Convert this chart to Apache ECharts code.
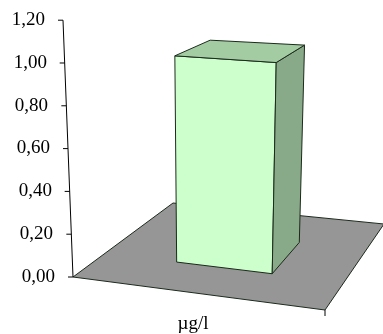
<!DOCTYPE html>
<html>
<head>
<meta charset="utf-8">
<script src="https://cdn.jsdelivr.net/npm/echarts@6/dist/echarts.min.js"></script>
<style>
html, body { margin: 0; padding: 0; background: #fff; }
#chart { width: 383px; height: 334px; }
</style>
</head>
<body>
<div id="chart"></div>
<script>
const categories = ['µg/l'];
const values = [1.00];
const yTicks = [0, 0.2, 0.4, 0.6, 0.8, 1.0, 1.2];
const yLabels = ['0,00', '0,20', '0,40', '0,60', '0,80', '1,00', '1,20'];

// fake 3D look: floor corners relative to the axis origin (front-left corner)
const FLOOR_FR = [252, 33];
const FLOOR_BL = [100, -74];
const FLOOR_BR = [311, -53];
const VANISH = [134, 3444];   // vertical edges lean away from this point
const BAR_T = [0.32, 0.70];   // bar depth on the floor (0 = front, 1 = back)
const BAR_HALF = 0.2;         // half bar width, share of the category band
const LABEL_LEAN = 10;        // px the top label moves left, follows the axis lean
const FONT = '"Liberation Serif", "Times New Roman", serif';

const makeProj = (ox, oy) => (s, t, h) => {
    const lx = t * FLOOR_BL[0], ly = t * FLOOR_BL[1];
    const rx = FLOOR_FR[0] + t * (FLOOR_BR[0] - FLOOR_FR[0]);
    const ry = FLOOR_FR[1] + t * (FLOOR_BR[1] - FLOOR_FR[1]);
    const bx = ox + lx + s * (rx - lx);
    const by = oy + ly + s * (ry - ly);
    const f = 1 + 0.058 * s - 0.17 * t; // things further back look smaller
    const dx = bx - (ox + VANISH[0]), dy = by - (oy + VANISH[1]);
    const n = Math.hypot(dx, dy);
    return [bx + dx / n * h * f, by + dy / n * h * f];
};

const poly = (points, fill) => ({
    type: 'polygon',
    shape: { points },
    style: { fill, stroke: '#1c2a1c', lineWidth: 1 }
});

const rich = {};
yTicks.forEach((t, i) => {
    rich['p' + i] = {
        fontFamily: FONT, fontSize: 19, color: '#000',
        padding: [0, Math.round(LABEL_LEAN * t / yTicks[yTicks.length - 1]), 0, 0]
    };
});

const chart = echarts.init(document.getElementById('chart'));
chart.setOption({
    animation: false,
    grid: { left: 73, right: 70, top: 20, bottom: 57, outerBoundsMode: 'none' },
    xAxis: {
        type: 'category',
        data: categories,
        axisLine: { show: false },
        axisTick: { show: false },
        axisLabel: { margin: 38, fontFamily: FONT, fontSize: 19, color: '#000' }
    },
    yAxis: {
        type: 'value',
        min: 0,
        max: yTicks[yTicks.length - 1],
        interval: 0.2,
        axisLine: { show: false },
        axisTick: { show: false },
        splitLine: { show: false },
        axisLabel: {
            margin: 18,
            formatter: (v, i) => `{p${i}|${yLabels[i]}}`,
            rich
        }
    },
    series: [
        {
            // floor, category tick and the leaning value axis
            type: 'custom',
            z: 1,
            silent: true,
            data: [[0, 0]],
            renderItem: (params, api) => {
                const cs = params.coordSys;
                const oy = api.coord([0, 0])[1];
                const P = makeProj(cs.x, oy);
                const children = [
                    poly([P(0, 0, 0), P(1, 0, 0), P(1, 1, 0), P(0, 1, 0)], '#969696')
                ];
                const fr = P(1, 0, 0);
                children.push({
                    type: 'line',
                    shape: { x1: fr[0], y1: fr[1], x2: fr[0], y2: fr[1] + 6 },
                    style: { stroke: '#000', lineWidth: 1 }
                });
                const topPx = oy - api.coord([0, yTicks[yTicks.length - 1]])[1];
                const a = P(0, 0, 0), b = P(0, 0, topPx);
                children.push({
                    type: 'line',
                    shape: { x1: a[0], y1: a[1], x2: b[0], y2: b[1] },
                    style: { stroke: '#000', lineWidth: 1 }
                });
                yTicks.forEach(t => {
                    const p = P(0, 0, oy - api.coord([0, t])[1]);
                    children.push({
                        type: 'line',
                        shape: { x1: p[0] - 5, y1: p[1], x2: p[0], y2: p[1] },
                        style: { stroke: '#000', lineWidth: 1 }
                    });
                });
                return { type: 'group', children };
            }
        },
        {
            type: 'custom',
            z: 2,
            data: values.map((v, i) => [i, v]),
            renderItem: (params, api) => {
                const cs = params.coordSys;
                const i = api.value(0), v = api.value(1);
                const oy = api.coord([i, 0])[1];
                const P = makeProj(cs.x, oy);
                const sc = (api.coord([i, 0])[0] - cs.x) / cs.width;
                const s0 = sc - BAR_HALF, s1 = sc + BAR_HALF;
                const h = oy - api.coord([i, v])[1];
                const [t0, t1] = BAR_T;
                return {
                    type: 'group',
                    children: [
                        poly([P(s0, t0, 0), P(s1, t0, 0), P(s1, t0, h), P(s0, t0, h)], '#ccffcc'),
                        poly([P(s1, t0, 0), P(s1, t1, 0), P(s1, t1, h), P(s1, t0, h)], '#88aa88'),
                        poly([P(s0, t0, h), P(s1, t0, h), P(s1, t1, h), P(s0, t1, h)], '#a3cca3')
                    ]
                };
            }
        }
    ]
});
</script>
</body>
</html>
